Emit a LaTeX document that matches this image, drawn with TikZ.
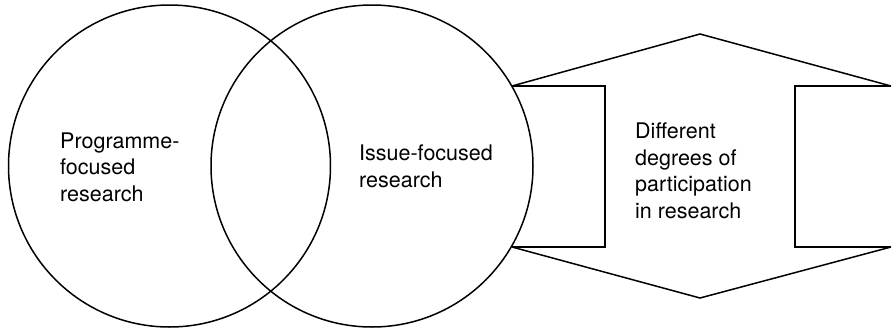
\documentclass[tikz,border=0pt]{standalone}
\usepackage{fontspec}
\setmainfont{TeX Gyre Heros}
\begin{document}
\begin{tikzpicture}[x=1pt,y=-1pt,
  outline/.style={draw=black,line width=1.5pt},
  ring/.style={outline,circle,inner sep=0pt,minimum size=322pt},
  lbl/.style={align=left,anchor=base west,inner sep=0pt,
    font=\fontsize{21.5}{26.5}\selectfont}]
  \useasboundingbox (0,0) rectangle (895,330);
  % two overlapping circles
  \node[ring] (prog) at (169.5,166) {};
  \node[ring] (issue) at (372,166) {};
  % corner points of the participation shape
  \coordinate (tl) at (512,86);
  \coordinate (bl) at (512,247);
  \coordinate (top) at (700,34);
  \coordinate (bot) at (700,298);
  \coordinate (tr) at (891,86);
  \coordinate (br) at (891,247);
  \coordinate (lrt) at (605,86);
  \coordinate (lrb) at (605,247);
  \coordinate (rrt) at (795,86);
  \coordinate (rrb) at (795,247);
  % outer pointed outline
  \draw[outline] (tl) -- (top) -- (tr);
  \draw[outline] (bl) -- (bot) -- (br);
  % inner brackets
  \draw[outline] (tl) -- (lrt) -- (lrb) -- (bl);
  \draw[outline] (tr) -- (rrt) -- (rrb) -- (br);
  % labels (anchored at the baseline of the last line)
  \node[lbl] (progtxt) at (60,201) {Programme-\\focused\\research};
  \node[lbl] (issuetxt) at (359,187) {Issue-focused\\research};
  \node[lbl] (parttxt) at (635,218) {Different\\degrees of\\participation\\in research};
\end{tikzpicture}
\end{document}
